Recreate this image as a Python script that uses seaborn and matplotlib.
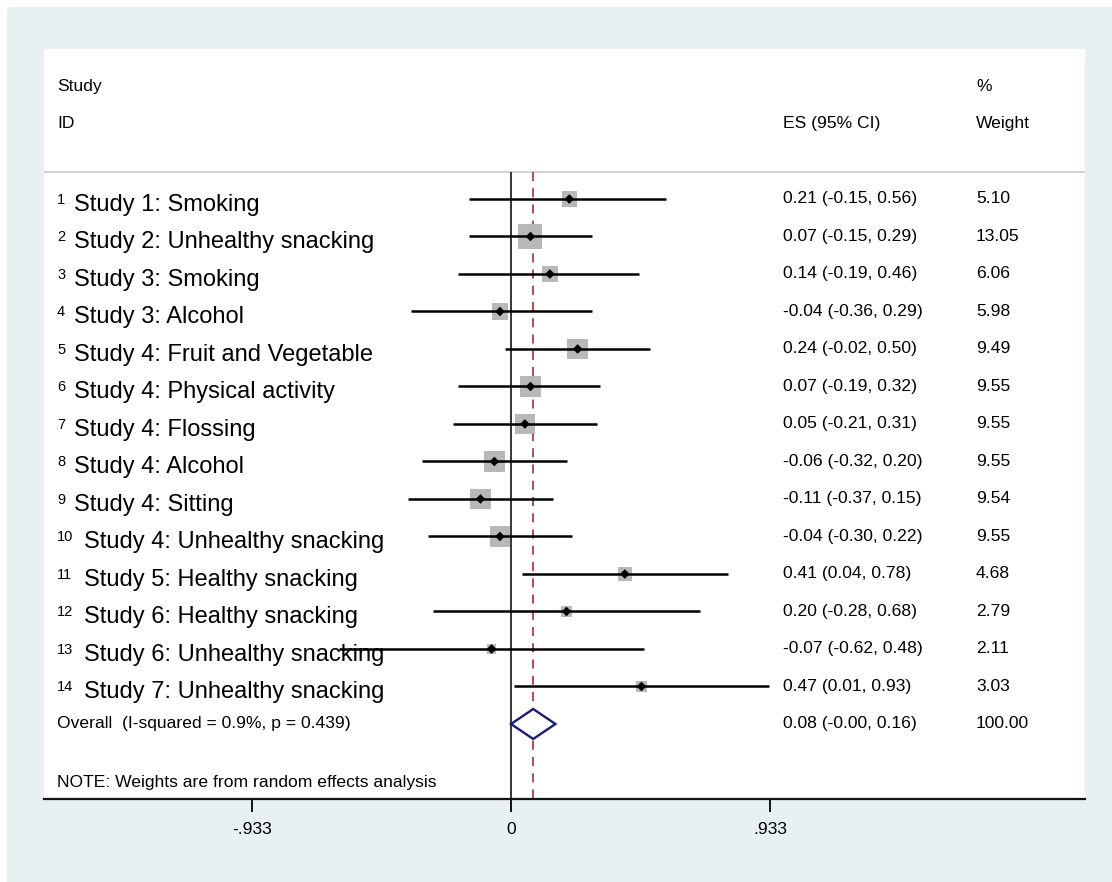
import numpy as np
import pandas as pd
import seaborn as sns
import matplotlib.pyplot as plt
from matplotlib.patches import Rectangle, Polygon

# データ
ids = [str(i) for i in range(1, 15)]
studies = [
    "Study 1: Smoking",
    "Study 2: Unhealthy snacking",
    "Study 3: Smoking",
    "Study 3: Alcohol",
    "Study 4: Fruit and Vegetable",
    "Study 4: Physical activity",
    "Study 4: Flossing",
    "Study 4: Alcohol",
    "Study 4: Sitting",
    "Study 4: Unhealthy snacking",
    "Study 5: Healthy snacking",
    "Study 6: Healthy snacking",
    "Study 6: Unhealthy snacking",
    "Study 7: Unhealthy snacking",
]
es = [0.21, 0.07, 0.14, -0.04, 0.24, 0.07, 0.05, -0.06, -0.11, -0.04, 0.41, 0.20, -0.07, 0.47]
ci_lo = [-0.15, -0.15, -0.19, -0.36, -0.02, -0.19, -0.21, -0.32, -0.37, -0.30, 0.04, -0.28, -0.62, 0.01]
ci_hi = [0.56, 0.29, 0.46, 0.29, 0.50, 0.32, 0.31, 0.20, 0.15, 0.22, 0.78, 0.68, 0.48, 0.93]
weights = [5.10, 13.05, 6.06, 5.98, 9.49, 9.55, 9.55, 9.55, 9.54, 9.55, 4.68, 2.79, 2.11, 3.03]

overall_es, overall_lo, overall_hi, overall_w = 0.08, -0.0, 0.16, 100.00
overall_label = "Overall  (I-squared = 0.9%, p = 0.439)"
note_text = "NOTE: Weights are from random effects analysis"

tick_vals = [-0.933, 0, 0.933]
tick_labels = ["-.933", "0", ".933"]

df = pd.DataFrame(
    {"id": ids, "study": studies, "es": es, "lo": ci_lo, "hi": ci_hi, "weight": weights}
)
df["row"] = np.arange(1, len(df) + 1)
overall_row = len(df) + 1

# スタイル
sns.set_style("white")
plt.rcParams["font.family"] = ["Liberation Sans", "DejaVu Sans"]
plt.rcParams["text.color"] = "black"
FS = 12.6  # 小さい文字

W, H = 1112, 882
fig = plt.figure(figsize=(W / 100, H / 100), dpi=100)
fig.patch.set_facecolor("white")
fig.add_artist(
    Rectangle((7 / W, 0), 1, 1 - 7 / H, transform=fig.transFigure,
              facecolor="#e8f0f2", edgecolor="none", zorder=-10)
)

ax = fig.add_axes([44 / W, 83 / H, 1041 / W, 750 / H])
ax.set_facecolor("white")

# CI lines
ax.hlines(df["row"], df["lo"], df["hi"], color="black", lw=1.8, zorder=3)

# weight boxes (area ~ weight)
k = 22.9
sns.scatterplot(
    data=df, x="es", y="row", size="weight",
    sizes=(k * min(weights), k * max(weights)),
    marker="s", color="#b8b8b8", edgecolor="none", legend=False, ax=ax, zorder=2,
)
# point estimates
sns.scatterplot(
    data=df, x="es", y="row", marker="D", s=24, color="black",
    edgecolor="none", legend=False, ax=ax, zorder=4,
)

# overall diamond
ax.add_patch(
    Polygon(
        [(overall_lo, overall_row), (overall_es, overall_row - 0.4),
         (overall_hi, overall_row), (overall_es, overall_row + 0.4)],
        closed=True, facecolor="white", edgecolor="#1a1a78", lw=1.7, zorder=5,
    )
)

sep_y = 0.27
ax.axhline(sep_y, color="#c8c8c8", lw=1.2, zorder=1)
ax.vlines(0, sep_y, 17, color="black", lw=1.1, zorder=1)
ax.vlines(overall_es, sep_y, 17, color="#a5404c", lw=1.3,
          linestyles=(0, (5, 4)), zorder=1)

ax.set_xlim(-1.6823, 2.0677)
ax.set_ylim(17.0, -3.0)
ax.set_xlabel("")
ax.set_ylabel("")
ax.set_yticks([])
ax.set_xticks(tick_vals, tick_labels)
ax.tick_params(axis="x", bottom=True, length=9, width=1.3, direction="out", pad=7.5,
               labelsize=FS, colors="black")
for s in ["top", "left", "right"]:
    ax.spines[s].set_visible(False)
ax.spines["bottom"].set_linewidth(1.6)
ax.spines["bottom"].set_color("#111111")

# テキスト列
tr = ax.get_yaxis_transform()
x0 = 13 / 1041
x_es = 739 / 1041
x_w = 932 / 1041

ax.text(x0, -2, "Study", transform=tr, fontsize=FS, va="center")
ax.text(x0, -1, "ID", transform=tr, fontsize=FS, va="center")
ax.text(x_es, -1, "ES (95% CI)", transform=tr, fontsize=FS, va="center")
ax.text(x_w, -2, "%", transform=tr, fontsize=FS, va="center")
ax.text(x_w, -1, "Weight", transform=tr, fontsize=FS, va="center")

for _, r in df.iterrows():
    ax.text(x0, r["row"] + 0.13, r["id"], transform=tr, fontsize=10.5, va="baseline")
    lx = x0 + (len(r["id"]) * 9.5 + 8) / 1041
    ax.text(lx, r["row"] + 0.31, r["study"], transform=tr, fontsize=17,
            va="baseline", zorder=1)
    ax.text(x_es, r["row"], f"{r['es']:.2f} ({r['lo']:.2f}, {r['hi']:.2f})",
            transform=tr, fontsize=FS, va="center")
    ax.text(x_w, r["row"], f"{r['weight']:.2f}", transform=tr, fontsize=FS, va="center")

ax.text(x0, overall_row, overall_label, transform=tr, fontsize=FS, va="center")
ax.text(x_es, overall_row, f"{overall_es:.2f} ({overall_lo:.2f}, {overall_hi:.2f})",
        transform=tr, fontsize=FS, va="center")
ax.text(x_w, overall_row, f"{overall_w:.2f}", transform=tr, fontsize=FS, va="center")
ax.text(x0, 16.56, note_text, transform=tr, fontsize=FS, va="center")

fig.savefig("out.png", dpi=100, facecolor=fig.get_facecolor())
